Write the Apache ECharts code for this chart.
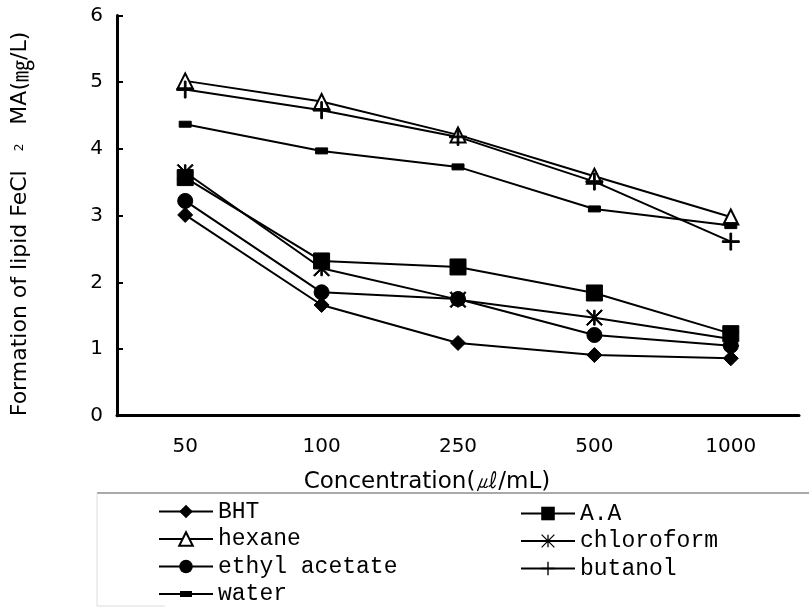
<!DOCTYPE html>
<html><head><meta charset="utf-8">
<script src="https://cdn.jsdelivr.net/npm/echarts@6/dist/echarts.min.js"></script>
<style>html,body{margin:0;padding:0;background:#fff}#c{width:809px;height:610px}</style>
</head><body><div id="c"></div>
<script>
// Data
const categories = ['50', '100', '250', '500', '1000'];
const bht        = [3.01, 1.66, 1.09, 0.91, 0.86];
const aa         = [3.57, 2.32, 2.23, 1.84, 1.23];
const hexane     = [5.02, 4.71, 4.21, 3.59, 2.98];
const chloroform = [3.65, 2.21, 1.74, 1.47, 1.15];
const ethyl      = [3.22, 1.85, 1.75, 1.21, 1.05];
const butanol    = [4.89, 4.58, 4.18, 3.51, 2.61];
const water      = [4.37, 3.97, 3.73, 3.10, 2.85];
const yMin = 0, yMax = 6, yStep = 1;

const STAR = 'path://M-1,-10 L1,-10 L1,10 L-1,10 Z M-9.3,-10.7 L10.7,9.3 L9.3,10.7 L-10.7,-9.3 Z M9.3,-10.7 L10.7,-9.3 L-9.3,10.7 L-10.7,9.3 Z';
const PLUS = 'path://M-1,-10 L1,-10 L1,-1 L10,-1 L10,1 L1,1 L1,10 L-1,10 L-1,1 L-10,1 L-10,-1 L-1,-1 Z';
const DASH = 'path://M0,0 L12,0 L12,6 L0,6 Z';
const DASH_LEGEND = 'path://M0,7.5 L54,7.5 L54,9.5 L0,9.5 Z M21,5.5 L33,5.5 L33,11.5 L21,11.5 Z';

function mk(name, data, symbol, size, extra) {
  return Object.assign({
    name: name, type: 'line', data: data,
    symbol: symbol, symbolSize: size, symbolKeepAspect: true,
    lineStyle: { color: '#000', width: 2 },
    itemStyle: { color: '#000', borderColor: '#000' },
    emphasis: { disabled: true }
  }, extra || {});
}

const chart = echarts.init(document.getElementById('c'), null, { renderer: 'canvas' });
const legendText = { fontFamily: 'Liberation Mono', fontSize: 23, color: '#000' };
const legendCommon = { orient: 'vertical', padding: 0, itemWidth: 54, itemHeight: 17, itemGap: 4.5,
  textStyle: legendText, selectedMode: false, symbolKeepAspect: true,
  lineStyle: { width: 2, color: '#000' } };
chart.setOption({
  animation: false,
  backgroundColor: '#fff',
  grid: { left: 117, right: 10, top: 15.5, bottom: 194.3, containLabel: false },
  xAxis: {
    type: 'category', data: categories, boundaryGap: true,
    axisLine: { lineStyle: { color: '#000', width: 3 } },
    axisTick: { show: false },
    axisLabel: { fontFamily: 'DejaVu Sans', fontSize: 20, color: '#000', margin: 21 },
    splitLine: { show: false }
  },
  yAxis: {
    type: 'value', min: yMin, max: yMax, interval: yStep,
    axisLine: { show: true, lineStyle: { color: '#000', width: 3 } },
    axisTick: { show: true, inside: true, length: 6, lineStyle: { color: '#000', width: 2 } },
    axisLabel: { fontFamily: 'DejaVu Sans', fontSize: 20, color: '#000', margin: 14 },
    splitLine: { show: false }
  },
  legend: [
    Object.assign({ data: ['BHT', 'hexane', 'ethyl acetate', { name: 'water', icon: DASH_LEGEND }],
      left: 158, top: 500 }, legendCommon),
    Object.assign({ data: ['A.A', 'chloroform', 'butanol'], left: 520, top: 502 }, legendCommon)
  ],
  graphic: [
    { type: 'line', shape: { x1: 97, y1: 493, x2: 809, y2: 493 }, style: { stroke: '#555', lineWidth: 1 } },
    { type: 'line', shape: { x1: 97, y1: 493, x2: 97, y2: 606 }, style: { stroke: '#ddd', lineWidth: 1 } },
    { type: 'line', shape: { x1: 97, y1: 606, x2: 165, y2: 606 }, style: { stroke: '#ddd', lineWidth: 1 } },
    { type: 'text', x: 427, y: 482, style: { text: 'Concentration(㎕/mL)', fontFamily: 'DejaVu Sans', fontSize: 23,
      fill: '#000', textAlign: 'center', textVerticalAlign: 'middle' } },
    { type: 'text', x: 20, y: 224, rotation: Math.PI / 2,
      style: { text: 'Formation of lipid FeCl {s|2} MA({u|㎎}/L)', fontFamily: 'DejaVu Sans', fontSize: 22,
        fill: '#000', textAlign: 'center', textVerticalAlign: 'middle',
        rich: { s: { fontSize: 12, fontFamily: 'DejaVu Sans', fill: '#000', padding: [0, 12, 0, 12] },
                u: { fontSize: 22, fontFamily: 'Noto Sans CJK KR', fill: '#000' } } } }
  ],
  series: [
    mk('BHT', bht, 'diamond', 15),
    mk('A.A', aa, 'rect', 16),
    mk('hexane', hexane, 'emptyTriangle', 15, { itemStyle: { color: '#000', borderWidth: 1.6 } }),
    mk('chloroform', chloroform, STAR, 16),
    mk('ethyl acetate', ethyl, 'circle', 15),
    mk('butanol', butanol, PLUS, 17),
    mk('water', water, DASH, 12)
  ]
});
</script></body></html>
